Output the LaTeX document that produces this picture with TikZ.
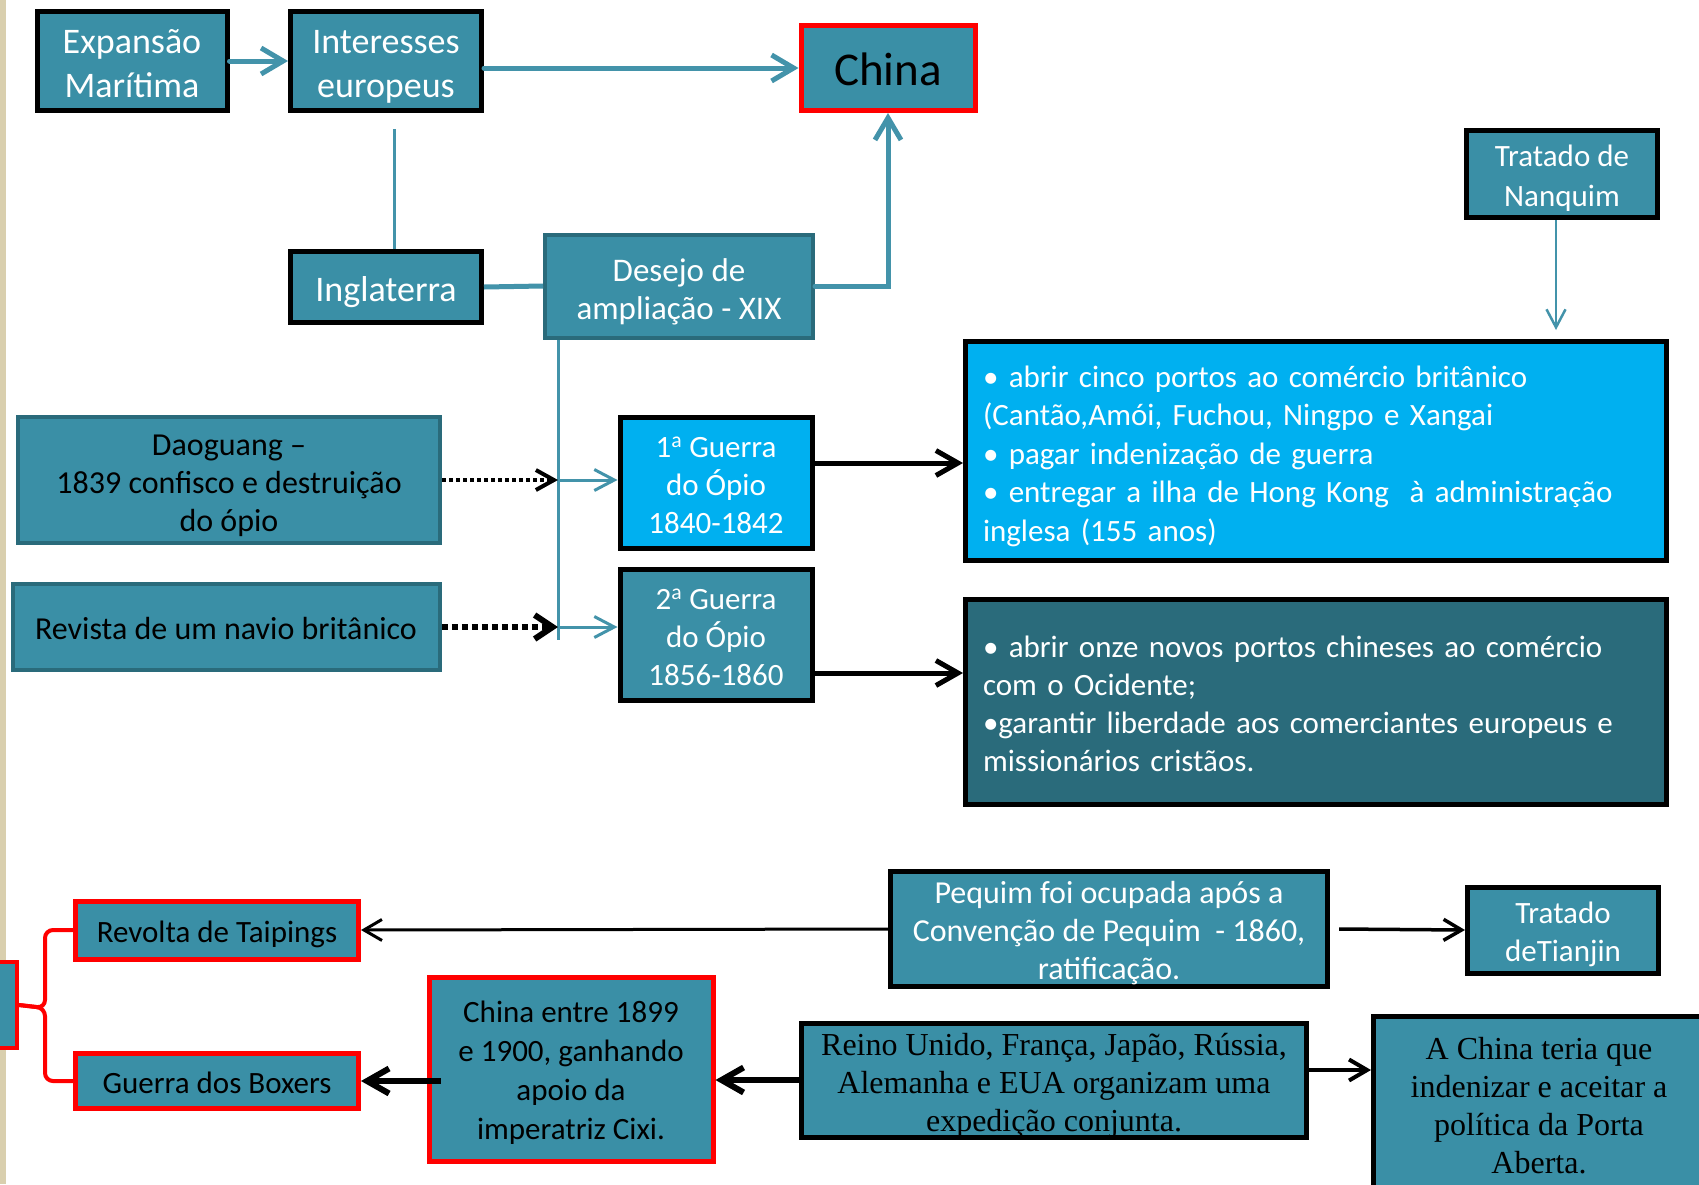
\documentclass[tikz,border=0pt]{standalone}
\usepackage{fontspec}
\setmainfont{Carlito}
\newfontfamily\timesfont{Liberation Serif}
\usepackage{tikz}
\usetikzlibrary{arrows.meta}
\definecolor{tealbox}{HTML}{3A8FA6}
\definecolor{tealdark}{HTML}{2A6B7B}
\definecolor{cyanbox}{HTML}{00B0F0}
\definecolor{tealline}{HTML}{4393AA}
\definecolor{beige}{HTML}{D9CFAE}

\begin{document}
\begin{tikzpicture}[x=1pt,y=-1pt,
   box/.style={draw=black, line width=5pt, fill=tealbox, text=white, align=center,
      inner sep=0pt, font=\fontsize{32}{38}\selectfont},
   redbox/.style={box, draw=red, text=black},
   edgebox/.style={box, draw=tealdark, line width=4pt},
   tb/.style 2 args={text height=#1, text depth=#2},
   tarrow/.style={draw=tealline, line width=5pt, line cap=round,
      -{Straight Barb[length=22pt,width=26pt]}},
   tthin/.style={draw=tealline, line width=3pt},
   tsmall/.style={tthin, -{Straight Barb[length=20pt,width=21pt]}},
   barrow/.style={draw=black, line width=5pt, -{Straight Barb[length=22pt,width=25pt]}},
   bthin/.style={draw=black, line width=3.5pt, -{Straight Barb[length=18pt,width=21pt]}},
   dots/.style={draw=black, line width=4pt, dash pattern=on 4pt off 3pt,
      -{Straight Barb[length=18pt,width=20pt]}},
   ]
   \useasboundingbox (0,0) rectangle (1699,1184);
   \fill[white] (0,0) rectangle (1699,1184);
   \fill[beige] (0,0) rectangle (6,1184);
   %
   \node[box, tb={72}{0}, minimum width=190, minimum height=99, font=\fontsize{36}{44}\selectfont]
      (exp) at (132,61) {Expansão\\Marítima};
   \node[box, tb={72}{0}, minimum width=191, minimum height=99, font=\fontsize{36}{44}\selectfont]
      (intr) at (386,61) {Interesses\\europeus};
   \node[redbox, tb={34}{0}, minimum width=174, minimum height=85, font=\fontsize{47}{50}\selectfont]
      (chi) at (888,68) {China};
   \node[box, tb={28}{0}, minimum width=191, minimum height=71, font=\fontsize{36}{44}\selectfont]
      (ingl) at (386,287) {Inglaterra};
   \node[edgebox, tb={66}{0}, minimum width=268, minimum height=103, font=\fontsize{33}{38}\selectfont]
      (des) at (679,286) {Desejo de\\ampliação - XIX};
   \node[box, tb={65}{0}, minimum width=191, minimum height=87, font=\fontsize{31}{40}\selectfont]
      (nanq) at (1562,174) {Tratado de\\Nanquim};
   %
   \node[box, tb={26}{154}, fill=cyanbox, minimum width=701, minimum height=219, text width=666,
      align=left, font=\fontsize{31}{38.5}\selectfont] (cinco) at (1316,451)
      {• abrir cinco portos ao comércio britânico\\
       (Cantão,Amói, Fuchou, Ningpo e Xangai\\
       • pagar indenização de guerra\\
       • entregar a ilha de Hong Kong\ \ à administração\\
       inglesa (155 anos)};
   \node[box, tb={25}{115}, fill=tealdark, minimum width=701, minimum height=205, text width=666,
      align=left, font=\fontsize{31}{38.3}\selectfont] (onze) at (1316,702)
      {• abrir onze novos portos chineses ao comércio\\
       com o Ocidente;\\
       •garantir liberdade aos comerciantes europeus e\\
       missionários cristãos.};
   %
   \node[edgebox, tb={102}{0}, text=black, minimum width=422, minimum height=126]
      (dao) at (229,480) {Daoguang --\\1839 confisco e destruição\\do ópio};
   \node[edgebox, tb={25}{0}, text=black, minimum width=427, minimum height=86]
      (rev) at (226,627) {Revista de um navio britânico};
   \node[box, tb={100}{0}, fill=cyanbox, minimum width=192, minimum height=131, font=\fontsize{31}{38}\selectfont]
      (g1) at (716,483) {1\textsuperscript{a} Guerra\\do Ópio\\1840-1842};
   \node[box, tb={100}{0}, minimum width=192, minimum height=131, font=\fontsize{31}{38}\selectfont]
      (g2) at (716,635) {2\textsuperscript{a} Guerra\\do Ópio\\1856-1860};
   %
   \node[box, tb={101}{0}, minimum width=437, minimum height=115]
      (peq) at (1109,929) {Pequim foi ocupada após a\\Convenção de Pequim\ \ - 1860,\\ratificação.};
   \node[box, tb={62}{0}, minimum width=191, minimum height=86, font=\fontsize{31}{38}\selectfont]
      (tianj) at (1563,930) {Tratado\\deTianjin};
   \node[redbox, tb={24}{0}, minimum width=283, minimum height=58, font=\fontsize{31}{38}\selectfont]
      (taip) at (217,930) {Revolta de Taipings};
   \node[redbox, tb={24}{0}, minimum width=283, minimum height=55, font=\fontsize{31}{38}\selectfont]
      (boxr) at (217,1081) {Guerra dos Boxers};
   \node[redbox, tb={141}{0}, minimum width=284, minimum height=184, font=\fontsize{31}{39}\selectfont]
      (cixi) at (571,1069) {China entre 1899\\e 1900, ganhando\\apoio da\\imperatriz Cixi.};
   \node[box, tb={103}{0}, text=black, minimum width=505, minimum height=114, font=\timesfont\fontsize{32}{38}\selectfont]
      (reino) at (1054,1080) {Reino Unido, França, Japão, Rússia,\\Alemanha e EUA organizam uma\\expedição conjunta.};
   \node[box, tb={141}{0}, text=black, minimum width=331, minimum height=174, font=\timesfont\fontsize{32}{38}\selectfont]
      (acn) at (1539,1103) {A China teria que\\indenizar e aceitar a\\política da Porta\\Aberta.};
   \node[redbox, line width=4pt, minimum width=34, minimum height=86] (leftbox) at (0,1005) {};
   %
   \draw[tarrow] (exp.east) -- (intr.west);
   \draw[tarrow] (intr.east |- chi.west) -- (chi.west);
   \coordinate (intrdrop) at (394,129);
   \draw[tthin] (intrdrop) -- (intrdrop |- ingl.north);
   \draw[tealline, line width=5pt] (ingl.east) -- (des.west);
   \draw[tarrow] (des.east) -| (chi.south);
   \draw[tealline, line width=2.5pt, -{Straight Barb[length=18pt,width=19pt]}]
      ([xshift=-6pt]nanq.south) -- ([xshift=-6pt]nanq.south |- cinco.north)
      [shorten >=9pt];
   %
   \coordinate (vtop) at (558,340);
   \coordinate (vbot) at (558,640);
   \draw[tthin] (vtop) -- (vbot);
   \draw[tsmall] (vtop |- dao.east) -- (g1.west |- dao.east);
   \draw[tsmall] (vtop |- rev.east) -- (g2.west |- rev.east);
   \draw[dots] (dao.east) -- (vtop |- dao.east);
   \draw[dots, line width=6pt, dash pattern=on 6pt off 4pt,
      -{Straight Barb[length=18pt,width=24pt]}] (rev.east) -- (vtop |- rev.east);
   %
   \draw[barrow] ([yshift=20pt]g1.east) -- ([yshift=20pt]g1.east -| cinco.west);
   \draw[barrow] ([yshift=-38pt]g2.east) -- ([yshift=-38pt]g2.east -| onze.west);
   %
   \draw[bthin, line width=3pt] (peq.west) -- (taip.east);
   \draw[bthin] ([xshift=9pt]peq.east) -- (tianj.west);
   \draw[barrow, line width=6pt] (reino.west) -- (cixi.east |- reino.west);
   \draw[barrow, line width=6pt] ([xshift=14pt]cixi.west |- boxr.east) -- (boxr.east);
   \draw[bthin, line width=4pt] ([yshift=10pt]reino.east) -- (acn.west |- 0,1070);
   %
   \coordinate (brk) at (45,1008);
   \draw[red, line width=4pt, rounded corners=8pt] (leftbox.east) -- (brk) |- (taip.west);
   \draw[red, line width=4pt, rounded corners=8pt] (leftbox.east) -- (brk) |- (boxr.west);
   %
\end{tikzpicture}
\end{document}
